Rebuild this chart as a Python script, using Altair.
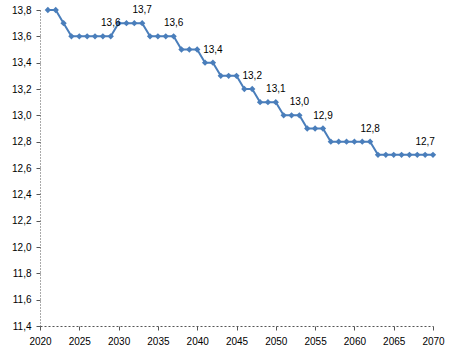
import altair as alt
import pandas as pd

years = list(range(2021, 2071))
values = ([13.8, 13.8, 13.7] + [13.6] * 6 + [13.7] * 4 + [13.6] * 4 + [13.5] * 3 +
          [13.4] * 2 + [13.3] * 3 + [13.2] * 2 + [13.1] * 3 + [13.0] * 3 +
          [12.9] * 3 + [12.8] * 6 + [12.7] * 8)
label_years = [2029, 2033, 2037, 2042, 2047, 2050, 2053, 2056, 2062, 2069]
y_ticks = [11.4, 11.6, 11.8, 12.0, 12.2, 12.4, 12.6, 12.8, 13.0, 13.2, 13.4, 13.6, 13.8]

df = pd.DataFrame({"year": years, "value": values})
df["lbl"] = df["year"].apply(lambda y: y in label_years)
lab = df[df["lbl"]].copy()
lab["text"] = lab["value"].map(lambda v: f"{v:.1f}".replace(".", ","))

FONT = "Liberation Sans"
COLOR = "#4a7ebb"

x = alt.X("year:Q", scale=alt.Scale(domain=[2020, 2070], nice=False, zero=False),
          axis=alt.Axis(values=list(range(2020, 2071, 5)), format="d", grid=False,
                        title=None, domainDash=[2, 2], domainColor="#555", tickColor="#555",
                        tickSize=4, labelFont=FONT, labelFontSize=10, labelColor="#000",
                        labelPadding=6, labelOverlap=False, labelFlush=False))
y = alt.Y("value:Q", scale=alt.Scale(domain=[11.4, 13.8], nice=False, zero=False),
          axis=alt.Axis(values=y_ticks, grid=False,
                        title=None, domainDash=[1, 2], domainColor="#555", tickColor="#555",
                        tickSize=4, labelFont=FONT, labelFontSize=10, labelColor="#000",
                        labelPadding=5, labelOverlap=False, labelFlush=False,
                        labelExpr="replace(format(datum.value, '.1f'), '.', ',')"))

line = alt.Chart(df).mark_line(color=COLOR, strokeWidth=2,
                               point=alt.OverlayMarkDef(shape="diamond", size=40, color=COLOR, filled=True)
                               ).encode(x=x, y=y)
text = alt.Chart(lab).mark_text(font=FONT, fontSize=10, color="#000", dy=-13).encode(
    x=x, y=y, text="text:N")

chart = (line + text).properties(
    width=393, height=316, autosize="none",
    padding={"left": 40, "top": 10, "right": 25, "bottom": 27}
).configure(background="white").configure_view(stroke=None)

chart.save("out.html", embed_options={"renderer": "svg", "actions": False})
